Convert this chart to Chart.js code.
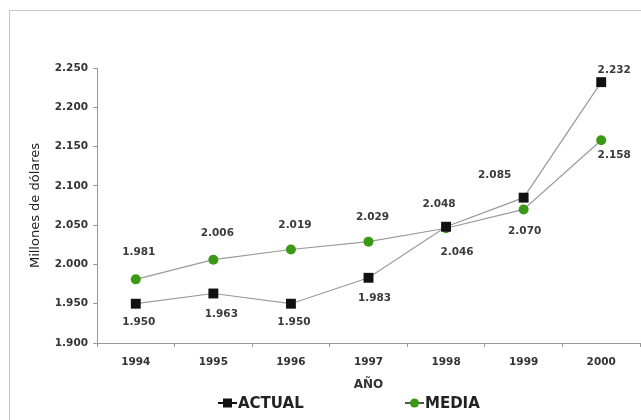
<!DOCTYPE html>
<html>
<head>
<meta charset="utf-8">
<script src="https://cdn.jsdelivr.net/npm/chart.js@4.4.0/dist/chart.umd.min.js"></script>
<style>
  html, body { margin: 0; padding: 0; background: #fff; overflow: hidden; }
  #wrap { position: relative; width: 641px; height: 420px; overflow: hidden; }
  #marco { position: absolute; left: 9px; top: 10px; width: 640px; height: 420px;
           border-left: 1px solid #c8c8c8; border-top: 1px solid #c8c8c8; pointer-events: none; }
</style>
</head>
<body>
<div id="wrap">
  <canvas id="grafica" width="641" height="420"></canvas>
  <div id="marco"></div>
</div>
<script>
// Datos de la gráfica
var anios = ['1994', '1995', '1996', '1997', '1998', '1999', '2000'];
var actual = [1950, 1963, 1950, 1983, 2048, 2085, 2232];
var media = [1981, 2006, 2019, 2029, 2046, 2070, 2158];
var ticksY = [1900, 1950, 2000, 2050, 2100, 2150, 2200, 2250];

// Desplazamiento de cada etiqueta respecto a su punto [dx, dy]
var etiquetasActual = [[3, 19], [8, 21], [3, 19], [6, 20], [-7, -22], [-29, -22], [13, -12]];
var etiquetasMedia = [[3, -27], [4, -26], [4, -24], [4, -24], [11, 24], [1, 22], [13, 15]];

var fuente = '"DejaVu Sans", Verdana, sans-serif';

function formato(v) {
  return (v / 1000).toFixed(3);
}

// Etiquetas de valores sobre los puntos
var etiquetasPlugin = {
  id: 'etiquetas',
  afterDatasetsDraw: function (chart) {
    var ctx = chart.ctx;
    var offsets = [etiquetasActual, etiquetasMedia];
    ctx.save();
    ctx.font = 'bold 10.5px ' + fuente;
    ctx.fillStyle = '#3a3a3a';
    ctx.textAlign = 'center';
    ctx.textBaseline = 'middle';
    chart.data.datasets.forEach(function (ds, i) {
      var meta = chart.getDatasetMeta(i);
      meta.data.forEach(function (pt, j) {
        var off = offsets[i][j];
        ctx.fillText(formato(ds.data[j]), pt.x + off[0], pt.y + off[1]);
      });
    });
    ctx.restore();
  }
};

// Leyenda dibujada a mano
var leyendaPlugin = {
  id: 'leyenda',
  afterDraw: function (chart) {
    var ctx = chart.ctx;
    var area = chart.chartArea;
    var y = 403;
    var items = [
      { x: area.left + 121, ds: chart.data.datasets[0], linea: '#111' },
      { x: area.left + 308, ds: chart.data.datasets[1], linea: '#555' }
    ];
    ctx.save();
    ctx.font = 'bold 15px ' + fuente;
    ctx.textBaseline = 'middle';
    items.forEach(function (it) {
      ctx.strokeStyle = it.linea;
      ctx.lineWidth = 2;
      ctx.beginPath();
      ctx.moveTo(it.x, y);
      ctx.lineTo(it.x + 19, y);
      ctx.stroke();
      ctx.fillStyle = it.ds.pointBackgroundColor;
      ctx.beginPath();
      if (it.ds.pointStyle === 'rect') {
        ctx.rect(it.x + 5, y - 4.5, 9, 9);
      } else {
        ctx.arc(it.x + 9.5, y, 4.5, 0, Math.PI * 2);
      }
      ctx.fill();
      ctx.fillStyle = '#222';
      ctx.textAlign = 'left';
      ctx.fillText(it.ds.label, it.x + 20, y + 1);
    });
    ctx.restore();
  }
};

var ctx = document.getElementById('grafica').getContext('2d');

var myChart = new Chart(ctx, {
  type: 'line',
  data: {
    labels: anios,
    datasets: [{
      label: 'ACTUAL',
      data: actual,
      borderColor: '#9a9a9a',
      borderWidth: 1.2,
      pointStyle: 'rect',
      pointRadius: 7,
      pointBackgroundColor: '#111',
      pointBorderColor: '#111',
      pointBorderWidth: 0,
      tension: 0
    }, {
      label: 'MEDIA',
      data: media,
      borderColor: '#9a9a9a',
      borderWidth: 1.2,
      pointStyle: 'circle',
      pointRadius: 5,
      pointBackgroundColor: '#3a9a14',
      pointBorderColor: '#3a9a14',
      pointBorderWidth: 0,
      tension: 0
    }]
  },
  options: {
    responsive: false,
    animation: false,
    layout: { autoPadding: false, padding: { left: 24, top: 68, right: 1, bottom: 28 } },
    plugins: {
      legend: { display: false },
      tooltip: { enabled: false }
    },
    scales: {
      x: {
        offset: true,
        afterFit: function (scale) {
          scale.height = 49;
          scale.paddingLeft = 0;
          scale.paddingRight = 0;
        },
        grid: { drawOnChartArea: false, offset: true, tickLength: 4, color: '#999' },
        border: { color: '#999' },
        ticks: { color: '#333', padding: 9, font: { family: fuente, size: 10.5, weight: 'bold' } },
        title: { display: true, text: 'AÑO', color: '#333', padding: { top: 8, bottom: 0 },
                 font: { family: fuente, size: 12, weight: 'bold' } }
      },
      y: {
        min: 1900,
        max: 2250,
        afterFit: function (scale) { scale.width = 73; },
        afterBuildTicks: function (scale) {
          scale.ticks = ticksY.map(function (v) { return { value: v }; });
        },
        grid: { drawOnChartArea: false, tickLength: 4, color: '#999' },
        border: { color: '#999' },
        ticks: { color: '#333', padding: 5, font: { family: fuente, size: 10.5, weight: 'bold' },
                 callback: function (v) { return formato(v); } },
        title: { display: true, text: 'Millones de dólares', color: '#222',
                 font: { family: fuente, size: 13 } }
      }
    }
  },
  plugins: [etiquetasPlugin, leyendaPlugin]
});
</script>
</body>
</html>
